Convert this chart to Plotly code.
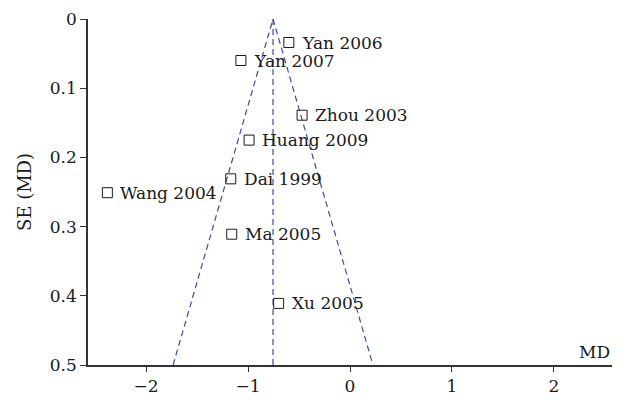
import plotly.graph_objects as go

studies = ["Yan 2006", "Yan 2007", "Zhou 2003", "Huang 2009", "Dai 1999",
           "Wang 2004", "Ma 2005", "Xu 2005"]
md = [-0.60, -1.07, -0.47, -0.99, -1.17, -2.38, -1.16, -0.70]
se = [0.034, 0.060, 0.139, 0.175, 0.231, 0.251, 0.311, 0.411]

pooled_md = -0.755
funnel_se = [0.5, 0.0, 0.5]
funnel_md = [pooled_md - 1.96 * 0.5, pooled_md, pooled_md + 1.96 * 0.5]
center_md = [pooled_md, pooled_md]
center_se = [0.0, 0.5]

x_ticks = [-2, -1, 0, 1, 2]
x_tick_text = ["\u22122", "\u22121", "0", "1", "2"]
y_ticks = [0, 0.1, 0.2, 0.3, 0.4, 0.5]
y_tick_text = ["0", "0.1", "0.2", "0.3", "0.4", "0.5"]

FONT = "DejaVu Serif"
TXT = "#1a1a1a"
LINE_COLOR = "#3d4aa6"

fig = go.Figure()
fig.add_trace(go.Scatter(x=funnel_md, y=funnel_se, mode="lines",
                         line=dict(color=LINE_COLOR, width=1.2, dash="6px,4px"),
                         hoverinfo="skip", showlegend=False))
fig.add_trace(go.Scatter(x=center_md, y=center_se, mode="lines",
                         line=dict(color=LINE_COLOR, width=1.2, dash="6px,4px"),
                         hoverinfo="skip", showlegend=False))
fig.add_trace(go.Scatter(x=md, y=se, mode="markers",
                         marker=dict(symbol="square-open", size=10,
                                     color=TXT, line=dict(width=1)),
                         showlegend=False))

annotations = [dict(text=s, x=xv, y=yv, xref="x", yref="y", xanchor="left",
                    yanchor="middle", xshift=11, showarrow=False,
                    font=dict(family=FONT, size=17, color=TXT))
               for s, xv, yv in zip(studies, md, se)]
annotations.append(dict(text="MD", xref="paper", yref="paper", x=1, y=0,
                        xanchor="right", yanchor="bottom", yshift=1,
                        showarrow=False,
                        font=dict(family=FONT, size=17, color=TXT)))

fig.update_layout(
    width=619, height=403,
    margin=dict(l=88, r=7, t=19, b=35),
    paper_bgcolor="white", plot_bgcolor="white",
    font=dict(family=FONT, size=17, color=TXT),
    xaxis=dict(range=[-2.57, 2.57], tickvals=x_ticks, ticktext=x_tick_text,
               showgrid=False, zeroline=False, showline=True,
               linecolor="#333333", linewidth=1.5, ticks="outside",
               ticklen=5, tickcolor="#333333", tickwidth=1.2,
               tickfont=dict(family=FONT, size=17)),
    yaxis=dict(range=[0.5, 0], tickvals=y_ticks, ticktext=y_tick_text,
               showgrid=False, zeroline=False, showline=True,
               linecolor="#333333", linewidth=1.5, ticks="outside",
               ticklen=6, tickcolor="#333333", tickwidth=1.2,
               tickfont=dict(family=FONT, size=17),
               title=dict(text="SE (MD)", standoff=14,
                          font=dict(family=FONT, size=18))),
    annotations=annotations,
)

fig.write_html("out.html", config={"displayModeBar": False},
               post_script="document.body.style.margin='0';")
